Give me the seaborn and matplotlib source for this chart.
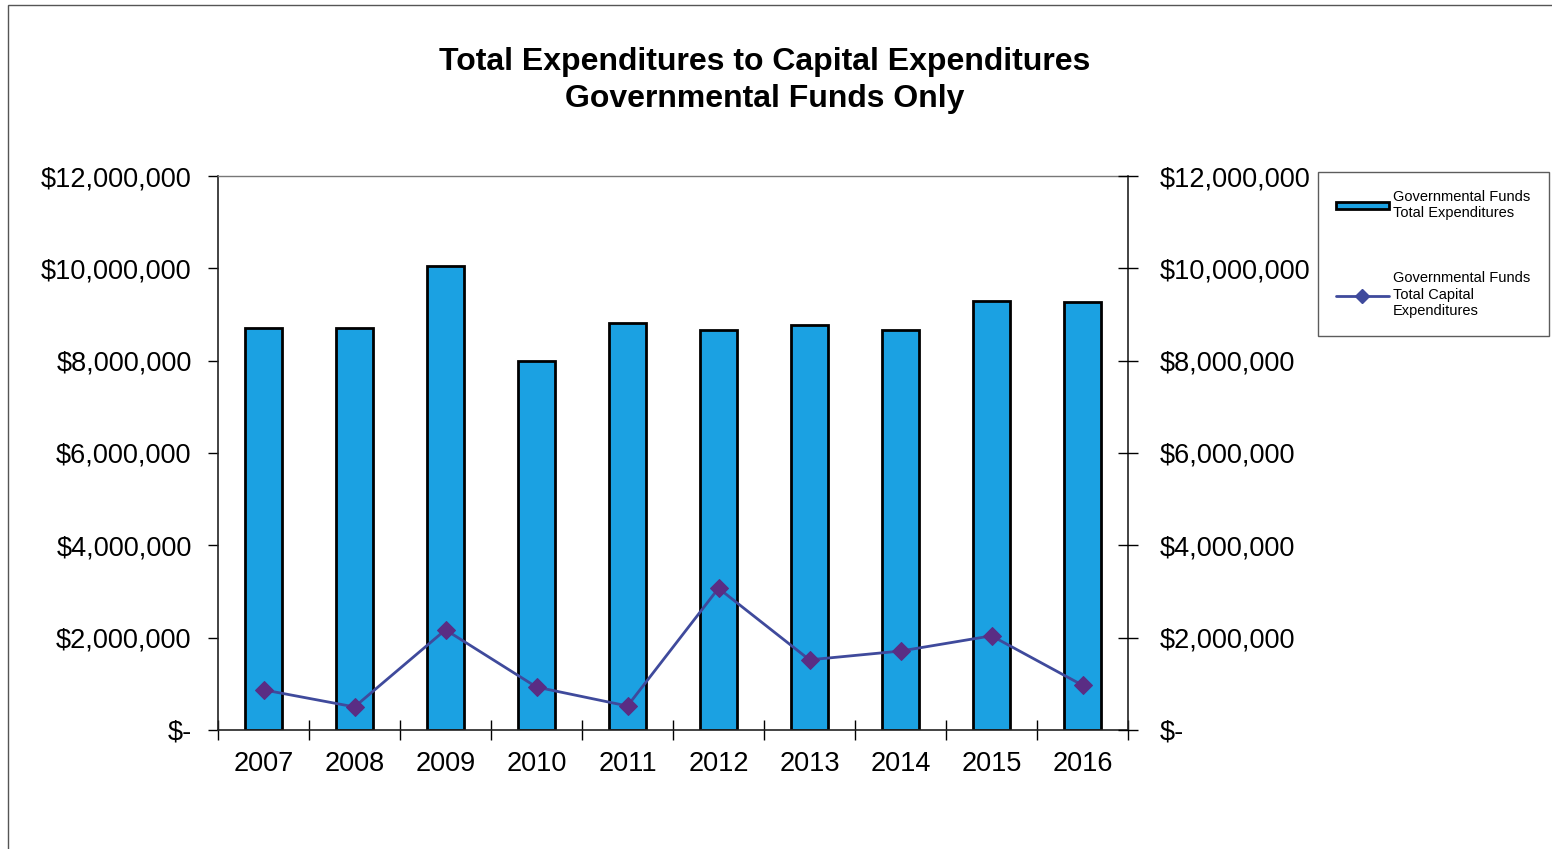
import numpy as np
import pandas as pd
import matplotlib
matplotlib.use('Agg')
import matplotlib.pyplot as plt
import matplotlib.patches as mpatches
from matplotlib.lines import Line2D
from matplotlib.ticker import FuncFormatter, FixedLocator
import seaborn as sns

# data
years = ['2007', '2008', '2009', '2010', '2011', '2012', '2013', '2014', '2015', '2016']
total_exp = [8710000, 8710000, 10050000, 7990000, 8820000, 8660000, 8770000, 8660000, 9290000, 9270000]
capital_exp = [870000, 500000, 2170000, 930000, 520000, 3070000, 1520000, 1710000, 2040000, 970000]
y_ticks = [0, 2000000, 4000000, 6000000, 8000000, 10000000, 12000000]

bar_label = 'Governmental Funds\nTotal Expenditures'
line_label = 'Governmental Funds\nTotal Capital\nExpenditures'
title = 'Total Expenditures to Capital Expenditures\nGovernmental Funds Only'

sns.set_style('white')
plt.rcParams['font.family'] = ['Liberation Sans', 'DejaVu Sans']
plt.rcParams['text.color'] = 'black'
plt.rcParams['xtick.color'] = 'black'
plt.rcParams['ytick.color'] = 'black'

bar_color = '#1ba1e2'
line_color = '#3f4a9c'
marker_color = '#5a2d84'

df = pd.DataFrame({'Year': years, 'Total': total_exp, 'Capital': capital_exp})

fig = plt.figure(figsize=(15.52, 8.49), dpi=100)
ax = fig.add_axes([218/1552, 1-730/849, (1128-218)/1552, (730-176)/849])

# bars
sns.barplot(data=df, x='Year', y='Total', color=bar_color, edgecolor='black',
            linewidth=2, width=0.4, saturation=1, ax=ax)
# capital expenditures line
sns.lineplot(x=np.arange(len(years)), y=df['Capital'], color=line_color, linewidth=2,
             marker='D', markersize=9, markerfacecolor=marker_color,
             markeredgecolor=marker_color, ax=ax)

fmt = FuncFormatter(lambda v, p: '$-' if v == 0 else '${:,.0f}'.format(v))

ax.set_xlim(-0.5, len(years) - 0.5)
ax.set_ylim(0, 12000000)
ax.set_yticks(y_ticks)
ax.yaxis.set_major_formatter(fmt)
ax.set_xlabel('')
ax.set_ylabel('')
ax.tick_params(axis='y', direction='out', length=7, width=1, pad=12, labelsize=19.5,
               left=True, labelcolor='black')
# ticks between categories, labels at the centres
ax.xaxis.set_minor_locator(FixedLocator(np.arange(-0.5, len(years), 1.0)))
ax.tick_params(axis='x', which='major', length=0, pad=15, labelsize=19.5, labelcolor='black')
ax.tick_params(axis='x', which='minor', direction='inout', length=14, width=1, bottom=True)

for s in ['left', 'bottom', 'right']:
    ax.spines[s].set_color('#222222')
    ax.spines[s].set_linewidth(1.2)
ax.spines['top'].set_color('#777777')
ax.spines['top'].set_linewidth(1)

# mirrored right axis
ax2 = ax.twinx()
ax2.set_ylim(ax.get_ylim())
ax2.set_yticks(y_ticks)
ax2.yaxis.set_major_formatter(fmt)
ax2.tick_params(axis='y', direction='inout', length=14, width=1, pad=16, labelsize=19.5,
                right=True, labelcolor='black')
for s in ax2.spines.values():
    s.set_visible(False)

fig.suptitle(title, x=0.493, y=0.945, fontsize=23, fontweight='bold', linespacing=1.3,
             color='black')

handles = [mpatches.Patch(facecolor=bar_color, edgecolor='black', linewidth=2),
           Line2D([], [], color=line_color, linewidth=2, marker='D', markersize=7,
                  markerfacecolor=line_color, markeredgecolor=line_color)]
leg = fig.legend(handles, [bar_label, line_label], loc='upper left',
                 bbox_to_anchor=(1318/1552, 1-172/849), fontsize=10.5,
                 frameon=True, fancybox=False, edgecolor='#333333',
                 handlelength=3.6, handleheight=0.4, labelspacing=3.5,
                 borderpad=1.25, handletextpad=0.3, borderaxespad=0)
leg.get_frame().set_linewidth(1)

# outer chart border
fig.patches.append(mpatches.Rectangle((8/1552, -0.01), 1.0, 1-5/849 + 0.01, transform=fig.transFigure,
                                      fill=False, edgecolor='#555555', linewidth=1))

fig.savefig('out.png', dpi=100)
